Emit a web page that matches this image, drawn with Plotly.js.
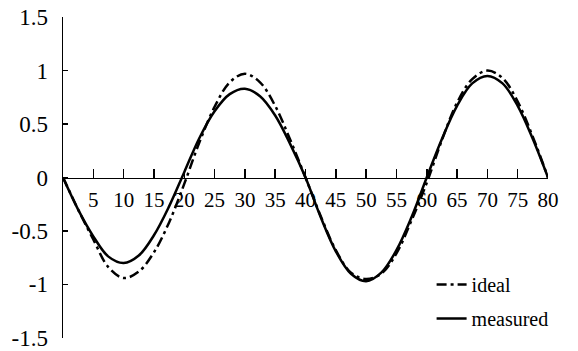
<!DOCTYPE html>
<html>
<head>
<meta charset="utf-8">
<script src="https://cdn.plot.ly/plotly-3.0.1.min.js"></script>
<style>html,body{margin:0;padding:0;background:#fff;}#chart{width:578px;height:351px;}</style>
</head>
<body>
<div id="chart"></div>
<script>
var xVals = [0,2.5,5,7.5,10,12.5,15,17.5,20,22.5,25,27.5,30,32.5,35,37.5,40,42.5,45,47.5,50,52.5,55,57.5,60,62.5,65,67.5,70,72.5,75,77.5,80];
var idealVals = [0,-0.30,-0.58,-0.84,-0.94,-0.88,-0.70,-0.42,-0.06,0.33,0.66,0.89,0.97,0.89,0.67,0.35,0,-0.36,-0.68,-0.89,-0.95,-0.90,-0.71,-0.40,-0.05,0.35,0.70,0.92,1.0,0.93,0.71,0.38,0];
var measuredVals = [0,-0.30,-0.55,-0.74,-0.80,-0.73,-0.54,-0.27,0.05,0.37,0.62,0.78,0.83,0.76,0.58,0.31,0,-0.37,-0.69,-0.90,-0.97,-0.89,-0.68,-0.37,0,0.36,0.67,0.88,0.95,0.88,0.67,0.36,0];
var xTicks = [5,10,15,20,25,30,35,40,45,50,55,60,65,70,75,80];
var yTicks = [1.5,1,0.5,0,-0.5,-1,-1.5];
var yTickText = ["1.5","1","0.5","0","-0.5","-1","-1.5"];

var FONT = 'Liberation Serif, Times New Roman, serif';

var traces = [
  {x: xVals, y: idealVals, name: 'ideal', mode: 'lines', legendgroup: 'a',
   line: {color: '#000', width: 2.5, dash: '10px,4px,3px,4px', shape: 'spline'}},
  {x: xVals, y: measuredVals, name: 'measured', mode: 'lines', legendgroup: 'b',
   line: {color: '#000', width: 2.5, shape: 'spline'}}
];

var layout = {
  width: 578, height: 351,
  margin: {l: 63, r: 30, t: 17, b: 13},
  paper_bgcolor: '#fff', plot_bgcolor: '#fff',
  font: {family: FONT, size: 20, color: '#000'},
  showlegend: true,
  legend: {x: 0.76, y: 0.0, xanchor: 'left', yanchor: 'bottom', bgcolor: 'rgba(0,0,0,0)',
           font: {family: FONT, size: 20, color: '#000'}, tracegroupgap: 5, traceorder: 'grouped'},
  xaxis: {range: [0, 80], anchor: 'free', position: 0.5, showline: true, linecolor: '#000', linewidth: 1.5,
          ticks: 'inside', ticklen: 9, tickwidth: 1.5, tickcolor: '#000', tickvals: xTicks,
          ticklabelstandoff: 3, automargin: false,
          showgrid: false, zeroline: false, tickfont: {family: FONT, size: 21, color: '#000'}},
  yaxis: {range: [-1.501, 1.501], showline: true, linecolor: '#000', linewidth: 1.5,
          ticks: 'inside', ticklen: 5, tickwidth: 1.5, tickcolor: '#000',
          tickvals: yTicks, ticktext: yTickText, ticklabelstandoff: 9, automargin: false,
          ticklabeloverflow: 'allow',
          showgrid: false, zeroline: false, tickfont: {family: FONT, size: 23, color: '#000'}}
};

Plotly.newPlot('chart', traces, layout, {staticPlot: true, displayModeBar: false});
</script>
</body>
</html>
